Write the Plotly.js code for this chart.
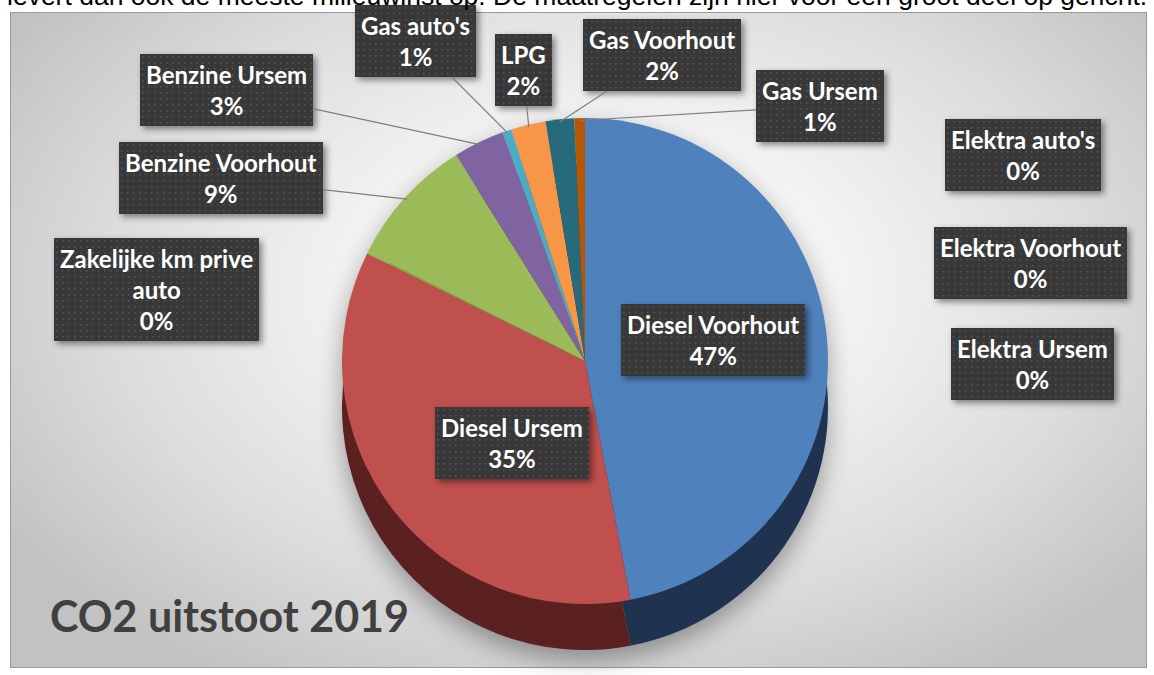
<!DOCTYPE html>
<html>
<head>
<meta charset="utf-8">
<script src="https://cdn.plot.ly/plotly-3.0.1.min.js"></script>
<style>
  html, body { margin: 0; padding: 0; background: #ffffff; width: 1154px; height: 675px; overflow: hidden; }
  #frame {
    position: absolute; left: 10px; top: 12px; width: 1135px; height: 654px;
    border: 1px solid #9a9a9a;
    background: radial-gradient(ellipse 62% 70% at 52% 42%, #ffffff 0%, #f3f3f3 35%, #dcdcdc 70%, #c2c2c2 100%);
  }
  #chart { position: absolute; left: 0; top: 0; width: 1154px; height: 675px; }
  .pielayer { filter: drop-shadow(0px 10px 12px rgba(0,0,0,0.35)); }
  .annotation .bg { filter: drop-shadow(3px 3px 3px rgba(0,0,0,0.45)); }
</style>
</head>
<body>
<div id="frame"></div>
<div id="chart"></div>
<script>
// ---------- data ----------
const categories = [
  "Diesel Voorhout", "Diesel Ursem", "Zakelijke km prive auto", "Benzine Voorhout",
  "Benzine Ursem", "Gas auto's", "LPG", "Gas Voorhout", "Gas Ursem",
  "Elektra auto's", "Elektra Voorhout", "Elektra Ursem"
];
const shares = [47.0, 35.3, 0.1, 8.7, 3.4, 0.6, 2.3, 1.9, 0.7, 0, 0, 0];
const topColors = ["#4F81BD", "#C0504D", "#8FB04F", "#9BBB59", "#8064A2", "#4BACC6",
                   "#F79646", "#276A7C", "#B65708", "#2C4D75", "#772C2A", "#5F7530"];
const sideColors = ["#1F3350", "#5A2120", "#3E4D22", "#4A5A2A", "#3C2F4D", "#23525E",
                    "#7A4A23", "#13343D", "#5A2B04", "#16263A", "#3A1615", "#2F3A18"];
const chartTitle = "CO2 uitstoot 2019";
const topText = "levert dan ook de meeste milieuwinst op. De maatregelen zijn hier voor een groot deel op gericht.";

// ---------- layout constants ----------
const W = 1154, H = 675;
const cx = 585, cy = 361, r = 243, depth = 46;
// label box centres (pixels) and whether a leader line is drawn
const labelPos = [
  [713, 340, false], [512, 443, false], [156, 289, false], [221, 178, true],
  [226, 90, true], [416, 41, true], [523, 70, true], [662, 55, true], [820, 106, true],
  [1023, 155, false], [1030, 263, false], [1032, 364, false]
];

const px2x = p => p / W;
const py2y = p => 1 - p / H;

const total = shares.reduce((a, b) => a + b, 0);

const sideTrace = {
  type: "pie", values: shares, labels: categories, sort: false,
  direction: "clockwise", rotation: 0, textinfo: "none", hoverinfo: "skip",
  marker: { colors: sideColors, line: { width: 0 } },
  domain: { x: [px2x(cx - r), px2x(cx + r)], y: [py2y(cy + r + depth), py2y(cy - r + depth)] },
  showlegend: false
};
const topTrace = {
  type: "pie", values: shares, labels: categories, sort: false,
  direction: "clockwise", rotation: 0, textinfo: "none", hoverinfo: "label+percent",
  marker: { colors: topColors, line: { width: 0 } },
  domain: { x: [px2x(cx - r), px2x(cx + r)], y: [py2y(cy + r), py2y(cy - r)] },
  showlegend: false
};

// annotations built from data
const annotations = [];
let cum = 0;
categories.forEach((name, i) => {
  const v = shares[i];
  const mid = (cum + v / 2) / total;
  cum += v;
  const pct = Math.round(v / total * 100) + "%";
  const display = name.replace("prive auto", "prive<br>auto");
  const [bx, by, leader] = labelPos[i];
  const base = {
    text: "<b>" + display + "<br>" + pct + "</b>",
    font: { family: "Lato, 'Open Sans', sans-serif", size: 24, color: "#ffffff" },
    bgcolor: "#3a3a3a", borderpad: 6, borderwidth: 0,
    xref: "paper", yref: "paper", align: "center"
  };
  if (leader) {
    const ang = mid * 2 * Math.PI;
    const tx = cx + r * 0.99 * Math.sin(ang);
    const ty = cy - r * 0.99 * Math.cos(ang);
    annotations.push(Object.assign(base, {
      x: px2x(tx), y: py2y(ty), showarrow: true, arrowhead: 0, arrowwidth: 1.2,
      arrowcolor: "#7f7f7f", ax: bx - tx, ay: by - ty, standoff: 0
    }));
  } else {
    annotations.push(Object.assign(base, {
      x: px2x(bx), y: py2y(by), showarrow: false, xanchor: "center", yanchor: "middle"
    }));
  }
});
// document text cut off above the chart (as in the source screenshot)
annotations.push({
  text: topText, xref: "paper", yref: "paper", x: px2x(6), y: py2y(12),
  xanchor: "left", yanchor: "bottom", showarrow: false, borderpad: 0,
  font: { family: "Liberation Sans, Arial, sans-serif", size: 26.5, color: "#000000" }
});

const layout = {
  width: W, height: H,
  margin: { l: 0, r: 0, t: 0, b: 0 },
  paper_bgcolor: "rgba(0,0,0,0)", plot_bgcolor: "rgba(0,0,0,0)",
  title: {
    text: "<b>" + chartTitle + "</b>",
    font: { family: "Lato, 'Open Sans', sans-serif", size: 43, color: "#404040" },
    x: px2x(50), xanchor: "left", xref: "paper",
    y: py2y(617), yanchor: "middle", yref: "container"
  },
  annotations: annotations,
  showlegend: false
};

Plotly.newPlot("chart", [sideTrace, topTrace], layout, { displayModeBar: false }).then(gd => {
  // dotted texture for the label boxes
  const svg = gd.querySelector("svg.main-svg");
  const ns = "http://www.w3.org/2000/svg";
  let defs = svg.querySelector("defs");
  if (!defs) { defs = document.createElementNS(ns, "defs"); svg.insertBefore(defs, svg.firstChild); }
  const pat = document.createElementNS(ns, "pattern");
  pat.setAttribute("id", "dotpat"); pat.setAttribute("width", "6"); pat.setAttribute("height", "6");
  pat.setAttribute("patternUnits", "userSpaceOnUse");
  const bg = document.createElementNS(ns, "rect");
  bg.setAttribute("width", "6"); bg.setAttribute("height", "6"); bg.setAttribute("fill", "#383838");
  const dot = document.createElementNS(ns, "rect");
  dot.setAttribute("x", "2"); dot.setAttribute("y", "2"); dot.setAttribute("width", "1.5"); dot.setAttribute("height", "1.5");
  dot.setAttribute("fill", "#565656");
  pat.appendChild(bg); pat.appendChild(dot); defs.appendChild(pat);
  gd.querySelectorAll(".annotation .bg").forEach(el => {
    if (el.style.fill && el.style.fill !== "rgba(0, 0, 0, 0)" && el.style.fillOpacity !== "0") {
      el.style.fill = "url(#dotpat)";
    }
  });
});
</script>
</body>
</html>
